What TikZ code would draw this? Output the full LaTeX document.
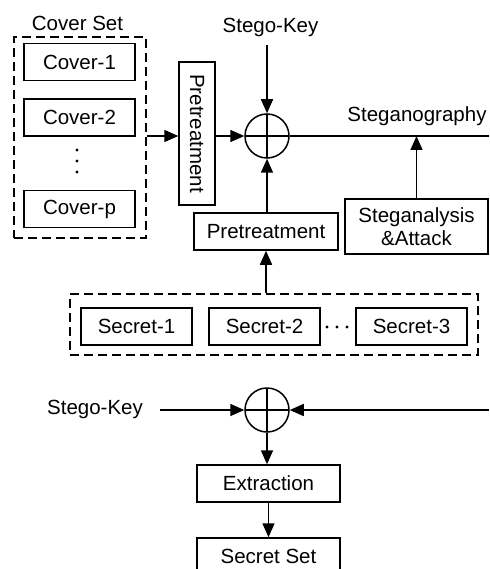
\documentclass[tikz,border=0pt]{standalone}
\usepackage{fontspec}
\setmainfont{Liberation Sans}
\usetikzlibrary{arrows.meta}
\tikzset{
  lw/.style={line width=1.5pt},
  box/.style={draw, lw, inner sep=0pt, minimum width=111pt, minimum height=37pt,
    font=\fontsize{20.5}{23}\selectfont},
  lbl/.style={inner sep=0pt, font=\fontsize{20.5}{23}\selectfont},
  grp/.style={draw, lw, dash pattern=on 9pt off 5pt},
  xor/.style={draw, lw, circle, minimum size=44pt, inner sep=0pt,
    path picture={\draw[lw] (path picture bounding box.north) -- (path picture bounding box.south)
      (path picture bounding box.west) -- (path picture bounding box.east);}},
  arr/.style={lw, -{Triangle[length=14pt,width=12pt]}},
  dot/.style={fill, circle, inner sep=0pt, minimum size=3.4pt},
}
\begin{document}
\begin{tikzpicture}[x=1pt,y=-1pt]
\useasboundingbox (0,0) rectangle (489,569);
\clip (0,0) rectangle (489,569);

% cover set
\node[lbl] (coverlbl) at (77.5,23) {Cover Set};
\node[grp, minimum width=132pt, minimum height=201pt, inner sep=0pt] (covers) at (80,137.5) {};
\node[box] (c1) at (79.5,62) {Cover-1};
\node[box] (c2) at (79.5,117.5) {Cover-2};
\node[box] (cp) at (79.5,209) {Cover-p};
\node[dot] (cd1) at (77,150) {};
\node[dot] (cd2) at (77,161) {};
\node[dot] (cd3) at (77,172) {};

% vertical pretreatment (text runs downwards) and embedding
\node[box, rotate=-90, minimum width=143pt, minimum height=36pt] (pre1) at (197,133.5) {Pretreatment};
\node[xor] (emb) at (267,136) {};
\node[lbl] (key1) at (270.5,27) {Stego-Key};
\coordinate (key1src) at (267,45);
\coordinate (stegoend) at (489,136);
\node[lbl, anchor=base] (stego) at (417,122) {Steganography};

\node[box, minimum width=144pt, minimum height=37pt] (pre2) at (266,231.5) {Pretreatment};
\node[box, minimum width=143pt, minimum height=55pt, align=center] (attack) at (416.5,226.5) {Steganalysis\\\&Attack};

% secret set
\node[grp, minimum width=408pt, minimum height=61pt, inner sep=0pt] (secrets) at (274,324.5) {};
\node[box] (s1) at (136.5,326.5) {Secret-1};
\node[box] (s2) at (264.5,326.5) {Secret-2};
\node[box] (s3) at (411.5,326.5) {Secret-3};
\node[dot] (sd1) at (327,327) {};
\node[dot] (sd2) at (337,327) {};
\node[dot] (sd3) at (347,327) {};

% extraction
\node[xor] (ext) at (267,410) {};
\node[lbl] (key2) at (95,409) {Stego-Key};
\coordinate (key2src) at (160,410);
\coordinate (recv) at (489,410);
\node[box, minimum width=143pt, minimum height=37pt] (extr) at (268.5,483.5) {Extraction};
\node[box, minimum width=143pt, minimum height=37pt] (sset) at (268.5,556.5) {Secret Set};

% connectors (pre1 is turned clockwise: its south side faces left, its north side right)
\draw[arr] (covers.east |- emb.west) -- (pre1.south |- emb.west);
\draw[arr] (pre1.north |- emb.west) -- (emb.west);
\draw[arr] (key1src) -- (emb.north);
\draw[arr] (pre2.north -| emb.south) -- (emb.south);
\draw[lw] (emb.east) -- (stegoend);
\draw[arr] (attack.north) -- (attack.north |- stegoend);
\draw[arr] (secrets.north -| pre2.south) -- (pre2.south);
\draw[arr] (key2src) -- (ext.west);
\draw[arr] (recv) -- (ext.east);
\draw[arr] (ext.south) -- (ext.south |- extr.north);
\draw[arr] (extr.south) -- (sset.north);
\end{tikzpicture}
\end{document}
